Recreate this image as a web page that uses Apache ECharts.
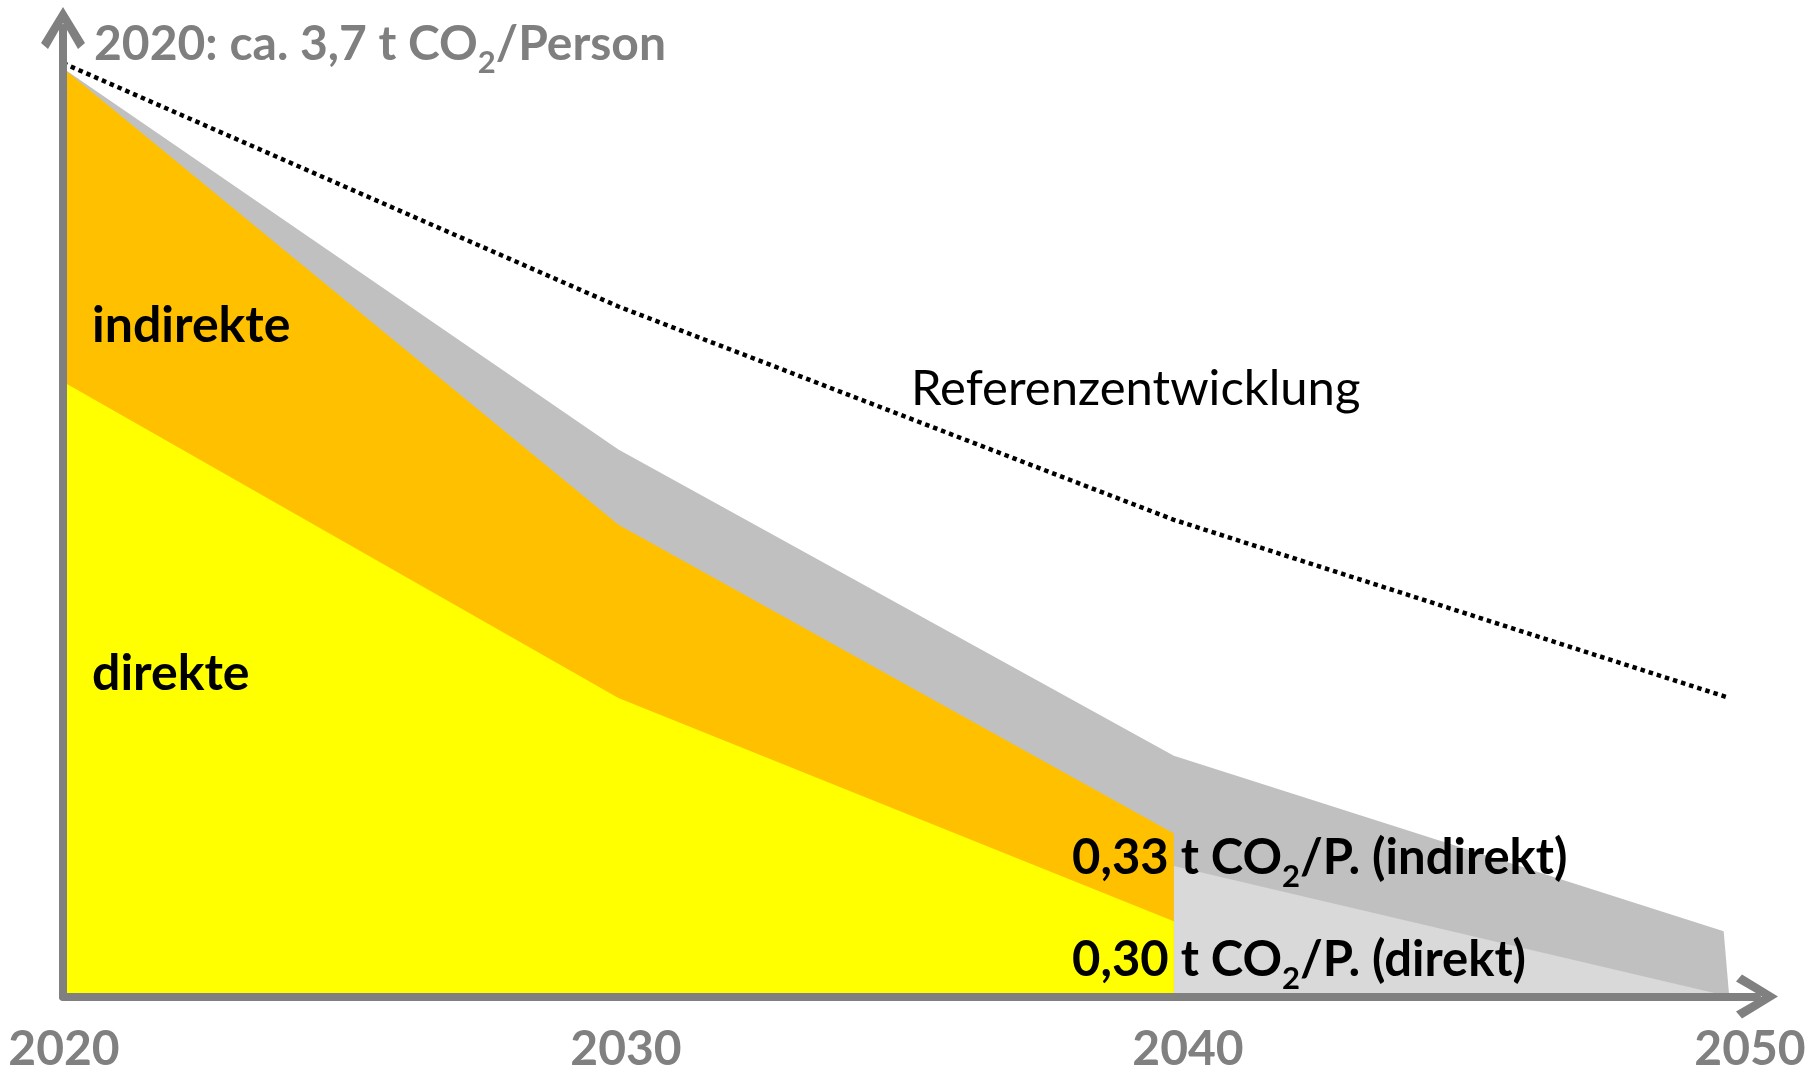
<!DOCTYPE html>
<html>
<head>
<meta charset="utf-8">
<script src="https://cdn.jsdelivr.net/npm/echarts@6/dist/echarts.min.js"></script>
<style>
  html, body { margin: 0; padding: 0; background: #fff; }
  #chart { width: 1820px; height: 1074px; }
</style>
</head>
<body>
<div id="chart"></div>
<script>
// Stützjahre fuer direkt / indirekt
var years = [2020, 2030, 2040];
// direkte Emissionen, t CO2 pro Person
var direkt = [2.45, 1.19, 0.30];
// indirekte Emissionen (liegen auf den direkten)
var indirekt = [1.25, 0.69, 0.35];
// grauer Korridor, obere Kante bis 2050
var korridorYears = [2020, 2030, 2040, 2049.9, 2050];
var korridor = [3.7, 2.18, 0.96, 0.26, 0];
// hellgrauer Rest nach 2040
var restYears = [2040, 2050];
var rest = [0.52, 0];
// Referenzentwicklung (gepunktet)
var refYears = [2020, 2030, 2040, 2050];
var referenz = [3.72, 2.75, 1.90, 1.19];
// Jahres-Beschriftung
var xTicks = [2020, 2030, 2040, 2050];

var GREY = '#808080';
var FONT = 'Lato';

function pairs(xs, ys) {
  return xs.map(function (x, i) { return [x, ys[i]]; });
}

var oben = direkt.map(function (d, i) { return +(d + indirekt[i]).toFixed(2); });

// offener Pfeil (Winkel), zeigt nach oben
var chevron = 'path://M22 0 L44 36 L37 42 L22 16 L7 42 L0 36 Z';

var axisLine = {
  show: true,
  lineStyle: { color: GREY, width: 8, cap: 'round' },
  symbol: ['none', chevron],
  symbolSize: [44, 43],
  symbolOffset: [0, 0]
};

function area(data, color, z) {
  return {
    type: 'line',
    data: data,
    symbol: 'none',
    silent: true,
    z: z,
    lineStyle: { width: 0, opacity: 0 },
    areaStyle: { color: color, opacity: 1 }
  };
}

function richLabel(size, color) {
  return {
    m: { fontFamily: FONT, fontWeight: 'bold', fontSize: size, lineHeight: Math.round(size * 1.38), fill: color },
    s: { fontFamily: FONT, fontWeight: 'bold', fontSize: Math.round(size * 0.64), lineHeight: Math.round(size * 0.64), verticalAlign: 'bottom', fill: color }
  };
}

function txt(x, y, text, style) {
  return {
    type: 'text',
    x: x,
    y: y,
    z: 20,
    silent: true,
    style: Object.assign({
      text: text,
      align: 'left',
      verticalAlign: 'middle',
      textAlign: 'left',
      textVerticalAlign: 'middle'
    }, style)
  };
}

var chart = echarts.init(document.getElementById('chart'));

var option = {
  backgroundColor: '#fff',
  animation: false,
  grid: [
    { left: 63, right: 63, top: 28, bottom: 77.5 },
    { left: 64, right: 70, top: 28, bottom: 77.5 }
  ],
  xAxis: [
    {
      type: 'value', gridIndex: 0, min: 2020, max: 2050.5, z: 10,
      axisLine: axisLine,
      axisTick: { show: false }, axisLabel: { show: false }, splitLine: { show: false }
    },
    {
      type: 'value', gridIndex: 1, min: 2020, max: 2050, interval: 10,
      axisLine: { show: false }, axisTick: { show: false }, splitLine: { show: false },
      axisLabel: {
        color: GREY, fontFamily: FONT, fontWeight: 'bold', fontSize: 48, margin: 31,
        customValues: xTicks,
        formatter: function (v) { return String(v); }
      }
    }
  ],
  yAxis: [
    {
      type: 'value', gridIndex: 0, min: 0, max: 3.86, z: 10,
      axisLine: axisLine,
      axisTick: { show: false }, axisLabel: { show: false }, splitLine: { show: false }
    },
    { type: 'value', gridIndex: 1, min: 0, max: 1, show: false }
  ],
  series: [
    area(pairs(korridorYears, korridor), '#C0C0C0', 1),
    area(pairs(restYears, rest), '#D9D9D9', 2),
    area(pairs(years, oben), '#FFC000', 3),
    area(pairs(years, direkt), '#FFFF00', 4),
    {
      type: 'line',
      data: pairs(refYears, referenz),
      symbol: 'none',
      silent: true,
      z: 5,
      lineStyle: { color: '#000', width: 4.5, type: [4.5, 4] }
    }
  ],
  graphic: [
    txt(94, 45, '{m|2020: ca. 3,7 t CO}{s|2}{m|/Person}', { rich: richLabel(48, '#7F7F7F') }),
    txt(92, 326, 'indirekte', { font: 'bold 50px ' + FONT, fill: '#000' }),
    txt(92, 674, 'direkte', { font: 'bold 50px ' + FONT, fill: '#000' }),
    txt(911, 389, 'Referenzentwicklung', { font: '49px ' + FONT, fill: '#000' }),
    txt(1072, 858, '{m|0,33 t CO}{s|2}{m|/P. (indirekt)}', { rich: richLabel(49, '#000') }),
    txt(1072, 960, '{m|0,30 t CO}{s|2}{m|/P. (direkt)}', { rich: richLabel(49, '#000') })
  ]
};

chart.setOption(option);
</script>
</body>
</html>
